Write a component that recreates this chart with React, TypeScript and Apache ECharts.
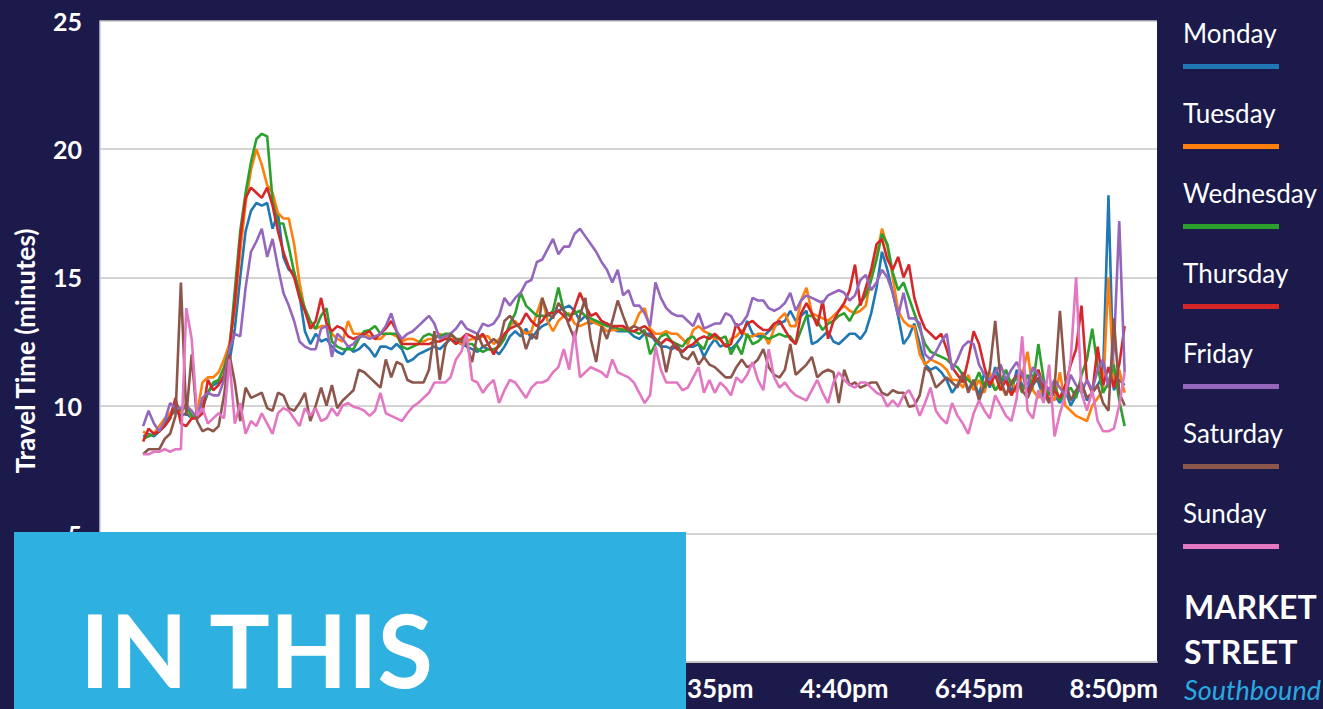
import React, { useEffect, useRef } from "react";
import * as echarts from "echarts";

const days = ["Monday", "Tuesday", "Wednesday", "Thursday", "Friday", "Saturday", "Sunday"];
const dayColors = ["#1f77b4", "#ff7f0e", "#2ca02c", "#d62728", "#9467bd", "#8c564b", "#e377c2"];

// first sample at 5:50am, one sample every 5 minutes (minutes after midnight)
const startMinute = 350;
const stepMinutes = 5;
// tick labels that remain visible (earlier ones sit under the "IN THIS" panel)
const xTickMinutes = [875, 1000, 1125, 1250];

const monday = [
  8.8, 8.9, 8.8, 9.0, 9.3, 9.6, 9.8, 9.6, 9.7, 9.5,
  9.6, 9.9, 10.5, 10.8, 10.9, 11.0, 11.7, 13.0, 15.0, 16.8,
  17.6, 17.9, 17.8, 17.9, 16.9, 17.5, 15.8, 15.3, 15.2, 14.3,
  12.9, 12.4, 12.8, 12.5, 12.6, 12.3, 12.1, 12.0, 12.3, 12.1,
  12.2, 12.4, 12.2, 11.9, 12.3, 12.3, 12.2, 12.4, 12.2, 11.7,
  11.8, 12.0, 12.1, 12.2, 12.3, 12.2, 12.4, 12.6, 12.5, 12.4,
  12.3, 12.2, 12.1, 12.3, 12.2, 12.2, 12.0, 12.3, 12.7, 12.9,
  12.7, 13.0, 12.6, 12.9, 13.1, 13.2, 13.5, 13.7, 13.8, 13.9,
  13.7, 13.3, 13.5, 13.2, 13.3, 13.2, 13.2, 13.0, 12.9, 12.9,
  12.9, 12.7, 12.6, 12.8, 12.8, 12.5, 12.3, 12.3, 12.2, 12.3,
  12.1, 12.3, 12.3, 12.4, 11.9, 12.3, 12.6, 12.3, 12.4, 12.2,
  12.4, 12.7, 13.3, 12.8, 12.7, 12.7, 12.9, 13.1, 13.2, 13.3,
  13.7, 13.3, 13.5, 13.7, 12.4, 12.5, 12.7, 12.9, 12.5, 12.4,
  12.6, 12.8, 12.8, 12.6, 12.9, 13.6, 14.6, 16.0, 15.3, 14.4,
  13.5, 12.4, 12.7, 13.2, 12.4, 11.6, 11.4, 11.5, 11.3, 11.0,
  10.5, 10.8, 11.2, 10.6, 11.0, 10.4, 11.3, 10.7, 11.5, 10.9,
  11.1, 10.5, 11.4, 10.8, 10.6, 11.2, 10.9, 10.3, 10.7, 10.4,
  10.1, 10.6, 10.0, 10.4, 10.9, 10.2, 10.5, 10.8, 11.2, 18.2,
  10.6, 11.0, 10.8,
];

const tuesday = [
  9.0, 8.8, 8.9, 9.2, 9.5, 9.7, 10.0, 9.7, 10.1, 9.5,
  9.7, 10.9, 11.1, 11.1, 11.3, 11.8, 12.4, 13.8, 16.0, 17.9,
  19.2, 20.0, 19.4, 18.6, 18.3, 17.5, 17.3, 17.3, 16.3, 14.8,
  13.7, 13.1, 13.0, 13.1, 13.1, 12.8, 12.6, 12.5, 13.3, 12.8,
  12.8, 12.8, 12.7, 12.6, 12.6, 12.8, 12.8, 12.7, 12.5, 12.6,
  12.6, 12.5, 12.5, 12.6, 12.6, 12.8, 12.7, 12.6, 12.6, 12.4,
  12.5, 12.6, 12.6, 12.7, 12.7, 12.4, 12.6, 12.7, 13.1, 13.3,
  13.0, 12.8, 12.9, 13.6, 14.2, 13.3, 12.9, 13.3, 13.5, 13.6,
  13.2, 13.1, 13.2, 13.3, 13.2, 13.1, 12.9, 12.95, 12.95, 13.0,
  13.0, 13.1, 13.6, 13.8, 13.0, 12.8, 12.8, 12.9, 12.8, 12.8,
  12.6, 12.4, 12.95, 13.1, 12.9, 12.8, 12.6, 12.6, 12.3, 12.6,
  12.7, 12.95, 12.7, 12.7, 12.8, 12.8, 12.4, 13.0, 13.4, 13.6,
  13.1, 13.1, 14.1, 14.6, 13.6, 13.5, 13.4, 13.3, 13.5, 13.7,
  13.9, 13.7, 13.6, 13.7, 13.9, 15.0, 15.8, 16.9, 16.2, 15.0,
  13.7, 13.3, 13.1, 13.1, 12.0, 11.6, 11.8, 11.7, 11.6, 11.4,
  11.0, 11.0, 10.7, 11.2, 10.6, 11.0, 10.5, 11.3, 10.6, 10.8,
  10.4, 11.0, 10.5, 11.2, 12.1, 10.6, 10.3, 10.8, 10.5, 10.2,
  11.3, 10.0, 9.8, 9.6, 9.5, 9.4, 10.0, 10.3, 10.6, 15.0,
  11.0, 11.4, 10.5,
];

const wednesday = [
  8.7, 8.8, 8.9, 9.0, 9.2, 9.5, 10.1, 9.8, 10.0, 9.6,
  9.6, 10.0, 10.5, 10.9, 11.0, 11.5, 12.2, 14.5, 16.8, 18.3,
  19.5, 20.4, 20.6, 20.5, 18.0, 17.1, 17.1, 16.2, 15.2, 14.4,
  13.8, 13.3, 13.0, 13.5, 13.8, 12.5, 12.3, 12.2, 12.2, 12.2,
  12.6, 12.9, 12.95, 13.1, 12.8, 12.8, 12.8, 12.8, 12.3, 12.2,
  12.3, 12.4, 12.7, 12.8, 12.7, 12.7, 12.8, 12.8, 12.6, 12.6,
  12.4, 12.4, 12.2, 12.1, 12.2, 12.2, 12.3, 12.6, 13.2, 13.6,
  14.4, 13.9, 13.7, 13.5, 13.5, 13.5, 13.7, 14.6, 13.7, 13.5,
  13.6, 13.7, 13.5, 13.4, 13.3, 13.2, 13.1, 13.1, 13.0, 12.95,
  12.9, 12.9, 12.8, 12.95, 12.0, 12.4, 12.7, 12.8, 12.5, 12.4,
  12.3, 12.6, 12.7, 12.4, 12.2, 12.8, 12.7, 12.6, 12.7, 12.0,
  12.4, 12.0, 12.8, 12.4, 12.5, 12.7, 12.6, 12.7, 12.8, 12.7,
  12.7, 12.4, 12.95, 13.5, 13.5, 13.3, 12.95, 13.2, 13.3, 13.5,
  13.6, 13.3, 13.7, 14.0, 14.3, 14.9, 15.7, 16.7, 16.3, 15.2,
  14.5, 14.8, 14.2, 13.6, 13.0, 12.4, 12.1, 12.0, 11.9, 11.8,
  11.6, 11.5, 11.2, 11.0, 10.8, 11.3, 10.7, 11.0, 10.6, 10.9,
  11.4, 10.8, 11.1, 10.5, 11.2, 10.8, 12.4, 11.0, 10.4, 10.8,
  10.2, 10.5, 10.7, 10.3, 11.2, 11.8, 13.0, 11.5, 10.5, 10.9,
  11.6, 10.2, 9.2,
];

const thursday = [
  8.6, 9.1, 8.9, 9.0, 9.2, 9.5, 10.3, 9.3, 9.2, 9.5,
  9.5, 9.7, 11.0, 10.6, 10.8, 11.2, 12.2, 14.0, 16.5, 18.1,
  18.5, 18.3, 18.1, 18.5, 17.8, 16.8, 16.0, 15.4, 15.0, 14.2,
  13.7, 13.0, 13.3, 14.2, 13.2, 12.9, 13.1, 13.0, 12.7, 12.6,
  12.7, 12.8, 12.9, 12.6, 12.8, 13.0, 13.3, 12.9, 12.4, 12.4,
  12.4, 12.4, 12.4, 12.4, 12.5, 12.5, 12.6, 12.6, 12.4, 12.6,
  12.8, 12.7, 12.6, 12.8, 12.4, 12.0, 12.4, 12.8, 13.0, 13.1,
  13.2, 13.6, 13.3, 13.1, 13.3, 13.6, 13.6, 13.7, 13.5, 13.3,
  13.8, 14.4, 13.9, 13.5, 13.6, 13.3, 13.2, 13.1, 13.1, 13.1,
  12.95, 12.9, 13.0, 13.1, 12.9, 12.6, 12.4, 12.6, 12.5, 12.2,
  12.1, 12.3, 12.4, 12.6, 12.7, 12.6, 12.8, 12.6, 12.3, 12.4,
  13.2, 12.8, 13.2, 13.3, 13.1, 12.95, 12.95, 13.2, 13.3, 12.95,
  12.6, 12.4, 13.6, 14.0, 13.6, 13.1, 14.1, 12.6, 13.3, 13.7,
  14.0, 14.5, 15.5, 13.9, 14.6, 15.3, 16.3, 16.5, 15.7, 15.3,
  15.8, 15.0, 15.5, 14.2, 13.5, 13.0, 12.8, 12.6, 12.8, 12.2,
  11.5, 11.2, 10.9, 11.8, 12.9, 12.4, 11.5, 10.8, 11.2, 10.6,
  11.0, 10.4, 10.8, 11.3, 10.5, 10.9, 11.4, 10.7, 10.2, 10.6,
  10.3, 10.8, 11.6, 12.2, 13.9, 11.0, 10.5, 12.3, 10.8, 11.5,
  10.7, 11.6, 13.1,
];

const friday = [
  9.2, 9.8, 9.3, 9.0, 9.4, 10.1, 9.9, 9.9, 10.0, 9.8,
  9.5, 10.3, 10.5, 10.4, 10.4, 11.0, 12.2, 12.8, 12.7, 14.6,
  16.0, 16.4, 16.9, 15.8, 16.5, 15.4, 14.4, 13.9, 13.3, 12.5,
  12.3, 12.2, 12.2, 13.0, 13.1, 11.9, 12.8, 12.6, 12.3, 12.4,
  12.7, 12.7, 12.6, 12.7, 12.8, 13.1, 13.6, 12.9, 12.6, 12.8,
  12.9, 13.1, 13.3, 13.5, 13.2, 12.6, 12.7, 12.8, 13.0, 13.3,
  13.0, 12.9, 12.8, 13.2, 13.1, 13.2, 13.5, 14.2, 13.9, 14.2,
  14.4, 14.8, 14.9, 15.6, 15.7, 16.1, 16.5, 15.9, 16.2, 16.2,
  16.7, 16.9, 16.6, 16.3, 16.0, 15.6, 15.3, 14.8, 15.3, 14.3,
  14.5, 13.9, 13.9, 13.6, 13.1, 14.8, 14.2, 13.8, 13.6, 13.5,
  13.5, 13.3, 13.1, 13.6, 13.0, 13.1, 13.2, 13.2, 13.6, 13.5,
  13.1, 13.2, 13.5, 14.2, 14.1, 14.1, 13.8, 13.7, 13.8, 14.0,
  14.4, 13.7, 14.1, 14.3, 14.2, 14.1, 14.0, 14.3, 14.4, 14.5,
  14.4, 14.1, 14.3, 14.9, 15.1, 14.5, 14.8, 15.3, 15.0, 14.4,
  13.5, 14.4, 13.4, 13.4, 13.2, 12.0, 11.8, 12.1, 12.5, 12.8,
  11.4, 11.8, 12.3, 12.5, 12.4, 11.6, 11.2, 11.0, 11.3, 11.6,
  11.0, 11.4, 11.7, 11.2, 10.8, 11.5, 11.2, 10.9, 10.6, 11.0,
  10.7, 10.4, 11.2, 10.8, 10.5, 11.0, 10.6, 11.4, 11.8, 10.7,
  12.2, 17.2, 11.3,
];

const saturday = [
  8.1, 8.3, 8.3, 8.3, 8.7, 8.9, 9.6, 14.8, 9.6, 12.0,
  9.4, 9.0, 9.1, 9.0, 9.2, 10.4, 12.0, 10.9, 9.4, 10.7,
  10.3, 10.4, 10.5, 9.9, 9.8, 10.5, 10.4, 9.9, 9.8, 10.1,
  10.5, 9.4, 10.0, 10.7, 10.0, 10.8, 9.9, 10.2, 10.4, 10.6,
  11.4, 11.3, 11.1, 10.9, 10.7, 11.8, 11.1, 11.7, 11.6, 11.0,
  10.9, 10.9, 10.9, 11.4, 12.9, 11.0, 12.3, 12.8, 12.6, 12.5,
  12.4, 11.7, 12.8, 12.3, 12.4, 12.6, 12.4, 13.3, 13.5, 13.2,
  13.0, 12.2, 12.8, 12.6, 14.2, 13.6, 13.4, 14.0, 13.7, 13.1,
  12.6, 13.5, 14.2, 12.6, 11.7, 13.1, 12.6, 13.3, 14.1, 13.5,
  12.95, 13.1, 13.0, 12.8, 12.7, 12.6, 12.4, 11.3, 12.3, 12.4,
  11.9, 11.8, 12.1, 11.6, 11.9, 11.6, 11.5, 11.3, 11.1, 11.1,
  11.5, 11.8, 11.5, 11.6, 11.8, 12.2, 11.5, 11.2, 11.1, 11.4,
  12.4, 11.2, 11.4, 11.6, 11.9, 11.1, 11.3, 11.4, 11.3, 10.1,
  11.4, 10.8, 10.9, 10.7, 10.8, 10.9, 10.9, 10.5, 10.4, 10.6,
  10.5, 10.5, 9.96, 10.0, 10.4, 11.5, 11.3, 10.7, 10.9, 11.1,
  10.9, 10.7, 11.3, 10.5, 11.0, 10.2, 10.8, 11.4, 13.3, 11.0,
  10.4, 10.9, 11.2, 10.6, 10.3, 10.8, 11.1, 10.5, 10.1, 10.7,
  13.7, 11.0, 10.2, 10.6, 10.9, 10.3, 10.5, 10.8, 10.1, 9.8,
  13.4, 10.5, 10.0,
];

const sunday = [
  8.1, 8.1, 8.2, 8.2, 8.3, 8.2, 8.3, 8.3, 13.8, 12.6,
  9.6, 9.9, 9.3, 9.5, 9.7, 9.5, 11.8, 9.3, 10.1, 8.9,
  9.4, 9.2, 9.7, 9.3, 8.9, 9.7, 9.9, 9.8, 9.5, 9.2,
  9.9, 9.6, 9.9, 9.4, 9.5, 9.9, 9.6, 10.0, 10.1, 9.96,
  9.9, 9.8, 9.6, 9.8, 10.5, 9.7, 9.6, 9.5, 9.4, 9.7,
  9.96, 10.1, 10.3, 10.5, 10.9, 10.9, 10.9, 11.1, 11.8, 12.1,
  12.8, 11.0, 10.9, 10.5, 10.8, 11.0, 10.1, 10.6, 11.0, 10.9,
  10.6, 10.3, 10.7, 10.9, 10.9, 11.0, 11.3, 11.5, 12.2, 11.4,
  12.9, 11.1, 11.3, 11.5, 11.4, 11.3, 11.1, 11.8, 11.3, 11.2,
  11.1, 10.9, 10.5, 10.1, 10.4, 12.3, 11.4, 10.9, 10.9, 10.9,
  10.6, 10.7, 11.1, 11.5, 10.5, 11.0, 10.5, 10.9, 10.7, 10.4,
  11.1, 10.9, 11.2, 11.7, 11.0, 10.6, 12.2, 11.1, 10.7, 10.9,
  10.6, 10.4, 10.3, 10.2, 10.6, 11.0, 10.5, 10.1, 10.9, 11.3,
  11.0, 10.8, 10.7, 10.9, 10.9, 10.7, 10.5, 10.4, 9.96, 10.2,
  9.96, 10.4, 10.6, 10.2, 9.6, 10.1, 10.7, 9.8, 9.5, 9.3,
  10.1, 9.6, 9.3, 8.9, 9.7, 10.2, 9.8, 9.5, 10.4, 10.0,
  9.6, 9.4, 10.3, 12.7, 9.8, 9.5, 10.6, 10.1, 11.6, 8.8,
  9.7, 10.4, 11.8, 15.0, 10.5, 9.8, 10.6, 9.4, 9.0, 9.0,
  9.1, 10.0, 11.3,
];

const seriesValues = [monday, tuesday, wednesday, thursday, friday, saturday, sunday];

const NAVY = "#1b1a4b";
const CYAN = "#2eb0e1";

function minuteLabel(v: number): string {
  const h24 = Math.floor(v / 60);
  const m = Math.round(v % 60);
  const suffix = h24 >= 12 ? "pm" : "am";
  let h = h24 % 12;
  if (h === 0) h = 12;
  return `${h}:${String(m).padStart(2, "0")}${suffix}`;
}

export default function App() {
  const ref = useRef<HTMLDivElement>(null);

  useEffect(() => {
    if (!ref.current) return;
    const chart = echarts.init(ref.current, null, { renderer: "svg" });

    const series = seriesValues.map((vals, k) => ({
      name: days[k],
      type: "line",
      showSymbol: false,
      symbol: "none",
      data: vals.map((v, i) => [startMinute + i * stepMinutes, v]),
      lineStyle: { color: dayColors[k], width: 2.6 },
      itemStyle: { color: dayColors[k] },
      z: 3,
    }));

    const legendEls: any[] = [];
    days.forEach((d, k) => {
      legendEls.push({
        type: "text",
        x: 1183,
        y: 33 + 80 * k,
        z: 50,
        style: {
          text: d,
          fill: "#ffffff",
          font: "400 26px Lato",
          textAlign: "left",
          textVerticalAlign: "middle",
        },
      });
      legendEls.push({
        type: "rect",
        x: 1183,
        y: 64 + 80 * k,
        z: 50,
        shape: { width: 96, height: 5 },
        style: { fill: dayColors[k] },
      });
    });

    const option: any = {
      animation: false,
      backgroundColor: NAVY,
      textStyle: { fontFamily: "Lato" },
      grid: {
        left: 100,
        right: 166,
        top: 21,
        bottom: 47,
        show: true,
        backgroundColor: "#ffffff",
        borderWidth: 0,
      },
      xAxis: {
        type: "value",
        min: 310,
        max: 1290,
        axisLine: { show: true, lineStyle: { color: "#c4c4c4", width: 2 } },
        axisTick: { show: false },
        splitLine: { show: false },
        axisLabel: {
          customValues: xTickMinutes,
          formatter: (v: number) => minuteLabel(v),
          color: "#ffffff",
          fontFamily: "Lato",
          fontWeight: "bold",
          fontSize: 26,
          margin: 13,
        },
      },
      yAxis: {
        type: "value",
        min: 0,
        max: 25,
        interval: 5,
        axisLine: { show: true, lineStyle: { color: "#c9c9de", width: 1.5 } },
        axisTick: { show: false },
        splitLine: { show: true, lineStyle: { color: "#c6c6c6", width: 1.5 } },
        axisLabel: {
          color: "#ffffff",
          fontFamily: "Lato",
          fontWeight: "bold",
          fontSize: 25,
          margin: 18,
        },
      },
      series,
      graphic: [
        {
          type: "text",
          x: 25,
          y: 351,
          rotation: Math.PI / 2,
          z: 50,
          style: {
            text: "Travel Time (minutes)",
            fill: "#ffffff",
            font: "bold 26px Lato",
            textAlign: "center",
            textVerticalAlign: "middle",
          },
        },
        ...legendEls,
        {
          type: "text",
          x: 1184,
          y: 606,
          z: 50,
          style: {
            text: "MARKET",
            fill: "#ffffff",
            font: "bold 32px Lato",
            textAlign: "left",
            textVerticalAlign: "middle",
          },
        },
        {
          type: "text",
          x: 1184,
          y: 651,
          z: 50,
          style: {
            text: "STREET",
            fill: "#ffffff",
            font: "bold 32px Lato",
            textAlign: "left",
            textVerticalAlign: "middle",
          },
        },
        {
          type: "text",
          x: 1184,
          y: 689,
          z: 50,
          style: {
            text: "Southbound",
            fill: "#2aa9e0",
            font: "italic 400 27px Lato",
            textAlign: "left",
            textVerticalAlign: "middle",
          },
        },
        {
          type: "rect",
          x: 14,
          y: 532,
          z: 100,
          shape: { width: 672, height: 177 },
          style: { fill: CYAN },
        },
        {
          type: "text",
          x: 80,
          y: 649,
          z: 101,
          style: {
            text: "IN THIS",
            fill: "#ffffff",
            font: "bold 101px Lato",
            textAlign: "left",
            textVerticalAlign: "middle",
          },
        },
      ],
    };

    chart.setOption(option);
    return () => chart.dispose();
  }, []);

  return (
    <div
      ref={ref}
      style={{ position: "fixed", left: 0, top: 0, width: 1323, height: 709, margin: 0 }}
    />
  );
}
